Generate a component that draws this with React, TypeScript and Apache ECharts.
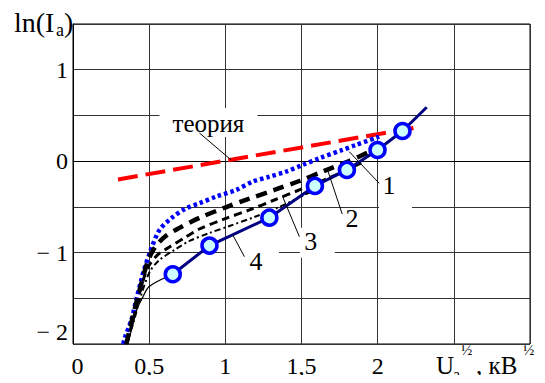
import React, { useEffect, useRef } from 'react';
import * as echarts from 'echarts';

const FONT = 'Liberation Serif';

// x: sqrt(Ua), kV^1/2 ; y: ln(Ia)
const xTickText: Record<string, string> = { '0': '0', '0.5': '0,5', '1': '1', '1.5': '1,5', '2': '2' };
const yTickText: Record<string, string> = { '1': '1', '0': '0', '-1': '\u2212 1', '-2': '\u2212 2' };

// theoretical dependence
const theory: number[][] = [[0.295, -0.2], [2.283, 0.377]];

// curve 1 (blue dotted)
const curve1: number[][] = [
  [0.33, -2.0], [0.339, -1.938], [0.383, -1.737], [0.415, -1.519], [0.448, -1.3],
  [0.47, -1.168], [0.503, -1.008], [0.514, -0.953], [0.568, -0.753], [0.645, -0.625],
  [0.743, -0.515], [0.83, -0.461], [0.94, -0.388], [1.071, -0.315], [1.18, -0.224],
  [1.289, -0.17], [1.398, -0.115], [1.507, -0.042], [1.617, 0.032], [1.769, 0.123],
  [1.857, 0.177], [2.01, 0.268],
];

// curve 2 (thick dashes)
const curve2: number[][] = [
  [0.35, -2.0], [0.4, -1.65], [0.437, -1.41], [0.49, -1.1], [0.535, -0.95], [0.601, -0.83],
  [0.699, -0.73], [0.83, -0.62], [0.994, -0.51], [1.158, -0.41], [1.322, -0.315],
  [1.486, -0.217], [1.65, -0.107], [1.813, 0.002], [1.931, 0.09],
];

// curve 3 (medium dashes)
const curve3: number[][] = [
  [0.35, -2.0], [0.4, -1.7], [0.437, -1.442], [0.49, -1.168], [0.555, -1.026], [0.633, -0.939],
  [0.731, -0.84], [0.83, -0.742], [0.994, -0.632], [1.158, -0.534], [1.322, -0.425],
  [1.486, -0.315], [1.65, -0.206], [1.781, -0.107], [1.892, -0.02],
];

// curve 4 (dash-dot)
const curve4: number[][] = [
  [0.35, -2.0], [0.4, -1.75], [0.437, -1.52], [0.503, -1.213], [0.568, -1.081], [0.666, -0.972],
  [0.765, -0.873], [0.896, -0.786], [1.027, -0.709], [1.191, -0.611], [1.355, -0.501],
  [1.519, -0.37], [1.65, -0.249],
];

// thin solid lead-in below the measured points
const tail: number[][] = [[0.36, -2.0], [0.42, -1.62], [0.457, -1.491], [0.5, -1.37], [0.655, -1.237]];

// measured points with linear fit
const measured: number[][] = [
  [0.655, -1.237], [0.896, -0.924], [1.289, -0.618], [1.588, -0.271],
  [1.798, -0.096], [1.999, 0.122], [2.163, 0.33],
];
const fitEnd: number[] = [2.322, 0.59];

// callouts: label, label centre, leader start, leader end (data units)
const callouts = [
  { text: 'теория', at: [0.889, 0.417], from: [0.83, 0.308], to: [1.038, 0.013], box: [-49, -15, 98, 29] },
  { text: '1', at: [2.075, -0.27], from: [1.813, 0.104], to: [2.01, -0.242], box: [-10, -16, 33, 42] },
  { text: '2', at: [1.832, -0.623], from: [1.671, -0.096], to: [1.767, -0.578], box: null },
  { text: '3', at: [1.561, -0.881], from: [1.376, -0.388], to: [1.486, -0.826], box: [-11, -14, 35, 30] },
  { text: '4', at: [1.202, -1.1], from: [1.049, -0.807], to: [1.125, -1.045], box: [-30, -16, 53, 32] },
];

const keyOf = (v: number) => String(Math.round(v * 10) / 10);

export default function App() {
  const ref = useRef<HTMLDivElement>(null);

  useEffect(() => {
    if (!ref.current) return;
    const chart = echarts.init(ref.current, undefined, { renderer: 'svg' });

    const dashed = (data: number[][], color: string, width: number, type: any, smooth: number | boolean = 0.3) => ({
      type: 'line',
      data,
      smooth,
      showSymbol: false,
      symbol: 'none',
      lineStyle: { color, width, type, cap: 'butt' },
      z: 2,
    });

    chart.setOption({
      animation: false,
      backgroundColor: '#fff',
      textStyle: { fontFamily: FONT },
      grid: { left: 73, right: 15, top: 24, bottom: 39, show: true, borderColor: '#000', borderWidth: 1 },
      xAxis: {
        type: 'value',
        min: 0,
        max: 3,
        interval: 0.5,
        axisLine: { show: true, lineStyle: { color: '#000', width: 1 } },
        axisTick: { show: false },
        splitLine: { show: true, lineStyle: { color: '#333', width: 1 } },
        axisLabel: {
          margin: 10,
          color: '#000',
          fontFamily: FONT,
          fontSize: 24,
          formatter: (v: number) => {
            const t = xTickText[keyOf(v)];
            if (!t) return '';
            return v === 0 ? '{z|0}' : t;
          },
          rich: { z: { fontFamily: FONT, fontSize: 24, color: '#000', padding: [0, 0, 0, 9] } },
        },
      },
      yAxis: {
        type: 'value',
        min: -2,
        max: 1.5,
        interval: 0.5,
        axisLine: { show: true, lineStyle: { color: '#000', width: 1 } },
        axisTick: { show: false },
        splitLine: { show: true, lineStyle: { color: '#333', width: 1 } },
        axisLabel: {
          margin: 5,
          color: '#000',
          fontFamily: FONT,
          fontSize: 24,
          formatter: (v: number) => {
            const t = yTickText[keyOf(v)];
            if (!t) return '';
            return v === -2 ? '{low|' + t + '}' : t;
          },
          rich: { low: { fontFamily: FONT, fontSize: 24, color: '#000', padding: [0, 0, 24, 0] } },
        },
      },
      series: [
        dashed(theory, '#ff0000', 4, [20, 8], false),
        dashed(curve1, '#0000ff', 4.5, [3.5, 3]),
        dashed(curve2, '#000000', 4.5, [11, 7]),
        dashed(curve3, '#000000', 3, [8, 5]),
        dashed(curve4, '#000000', 2, [6, 3, 2, 3]),
        dashed(tail, '#000000', 1.3, 'solid'),
        {
          type: 'line',
          data: [...measured, { value: fitEnd, symbol: 'none' }],
          symbol: 'circle',
          symbolSize: 15,
          showSymbol: true,
          lineStyle: { color: '#000080', width: 3 },
          itemStyle: { color: '#ccffff', borderColor: '#0000ff', borderWidth: 3.5 },
          z: 3,
        },
      ],
    });

    const graphics: any[] = [];
    callouts.forEach((c) => {
      const p = chart.convertToPixel({ gridIndex: 0 }, c.at) as number[];
      const a = chart.convertToPixel({ gridIndex: 0 }, c.from) as number[];
      const b = chart.convertToPixel({ gridIndex: 0 }, c.to) as number[];
      if (c.box) {
        graphics.push({
          type: 'rect',
          z: 10,
          shape: { x: p[0] + c.box[0], y: p[1] + c.box[1], width: c.box[2], height: c.box[3] },
          style: { fill: '#fff' },
        });
      }
      graphics.push({
        type: 'line',
        z: 11,
        shape: { x1: a[0], y1: a[1], x2: b[0], y2: b[1] },
        style: { stroke: '#000', lineWidth: 1 },
      });
      graphics.push({
        type: 'text',
        z: 11,
        x: p[0],
        y: p[1],
        style: {
          text: c.text, fill: '#000', fontFamily: FONT,
          fontSize: c.text.length > 1 ? 25 : 26, align: 'center', verticalAlign: 'middle',
        },
      });
    });

    // axis titles
    const txt = (s: string, x: number, y: number, size: number) => ({
      type: 'text',
      z: 11,
      x,
      y,
      style: { text: s, fill: '#000', fontFamily: FONT, fontSize: size, align: 'left', verticalAlign: 'middle' },
    });
    graphics.push(txt('ln(I', 14, 22, 28));
    graphics.push(txt('a', 56, 30, 18));
    graphics.push(txt(')', 64, 22, 28));
    graphics.push(txt('U', 436, 365, 25));
    graphics.push(txt('a', 453, 374, 16));
    graphics.push(txt('\u00bd', 461, 350, 15));
    graphics.push(txt(', кВ', 476, 365, 25));
    graphics.push(txt('\u00bd', 523, 350, 15));

    chart.setOption({ graphic: graphics });

    return () => chart.dispose();
  }, []);

  return <div ref={ref} style={{ width: 545, height: 383, margin: -8 }} />;
}
